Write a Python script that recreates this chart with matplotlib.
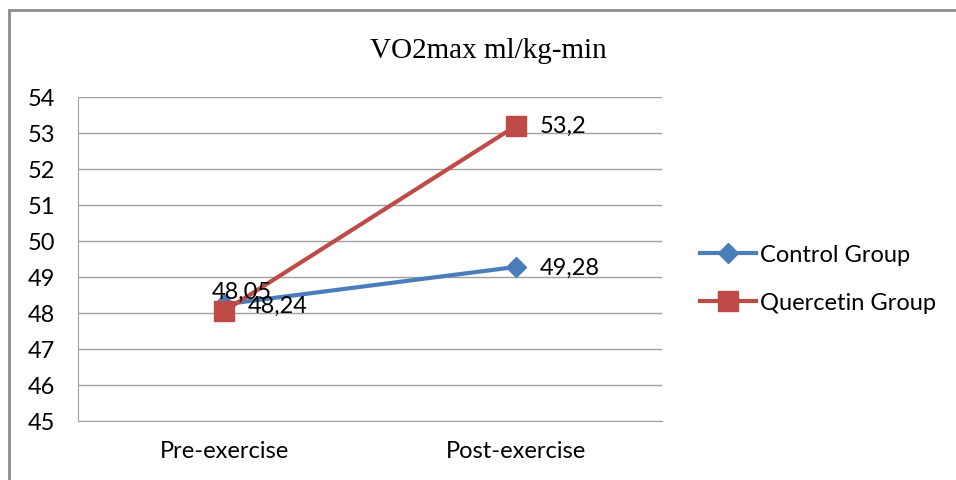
import matplotlib.pyplot as plt
from matplotlib.patches import Rectangle

categories = ['Pre-exercise', 'Post-exercise']
control = [48.24, 49.28]
quercetin = [48.05, 53.2]
control_labels = ['48,24', '49,28']
quercetin_labels = ['48,05', '53,2']
yticks = list(range(45, 55))

plt.rcParams['font.family'] = ['Lato', 'DejaVu Sans']

fig = plt.figure(figsize=(9.56, 4.81), dpi=100)
ax = fig.add_axes([0.0816, 0.1227, 0.611, 0.6736])

x = range(len(categories))
ax.plot(x, control, color='#4a7ebb', lw=3, marker='D', ms=10,
        label='Control Group', zorder=3)
ax.plot(x, quercetin, color='#be4b48', lw=3, marker='s', ms=15,
        label='Quercetin Group', zorder=3)

# data labels (the two pre-exercise labels overlap in the original too)
fs = 17
ax.annotate(control_labels[0], (0, control[0]), xytext=(17, -1),
            textcoords='offset points', fontsize=fs, va='center', ha='left')
ax.annotate(control_labels[1], (1, control[1]), xytext=(17, 0),
            textcoords='offset points', fontsize=fs, va='center', ha='left')
ax.annotate(quercetin_labels[0], (0, quercetin[0]), xytext=(-9, 14),
            textcoords='offset points', fontsize=fs, va='center', ha='left')
ax.annotate(quercetin_labels[1], (1, quercetin[1]), xytext=(17, 0),
            textcoords='offset points', fontsize=fs, va='center', ha='left')

ax.set_xlim(-0.5, 1.5)
ax.set_ylim(45, 54)
ax.set_yticks(yticks)
ax.set_xticks(list(x))
ax.set_xticklabels(categories)
ax.tick_params(length=0, labelsize=fs)
ax.tick_params(axis='x', pad=14)
ax.tick_params(axis='y', pad=36)
for lbl in ax.get_yticklabels():
    lbl.set_horizontalalignment('left')
ax.grid(axis='y', color='#a0a0a0', lw=1)
ax.set_axisbelow(True)
for s in ['top', 'right']:
    ax.spines[s].set_visible(False)
for s in ['left', 'bottom']:
    ax.spines[s].set_color('#a0a0a0')

fig.text(0.511, 0.895, 'VO2max ml/kg-min', family='Liberation Serif',
         fontsize=21, ha='center', va='center')

ax.legend(loc='center left', bbox_to_anchor=(1.028, 0.44), frameon=False,
          fontsize=fs, handlelength=2.37, labelspacing=1.15, handletextpad=0.17)

# chart border
fig.patches.append(Rectangle((0.0094, -0.05), 1.1, 1.027, transform=fig.transFigure,
                             fill=False, ec='#8c8c8c', lw=2))

fig.savefig('out.png', dpi=100)
